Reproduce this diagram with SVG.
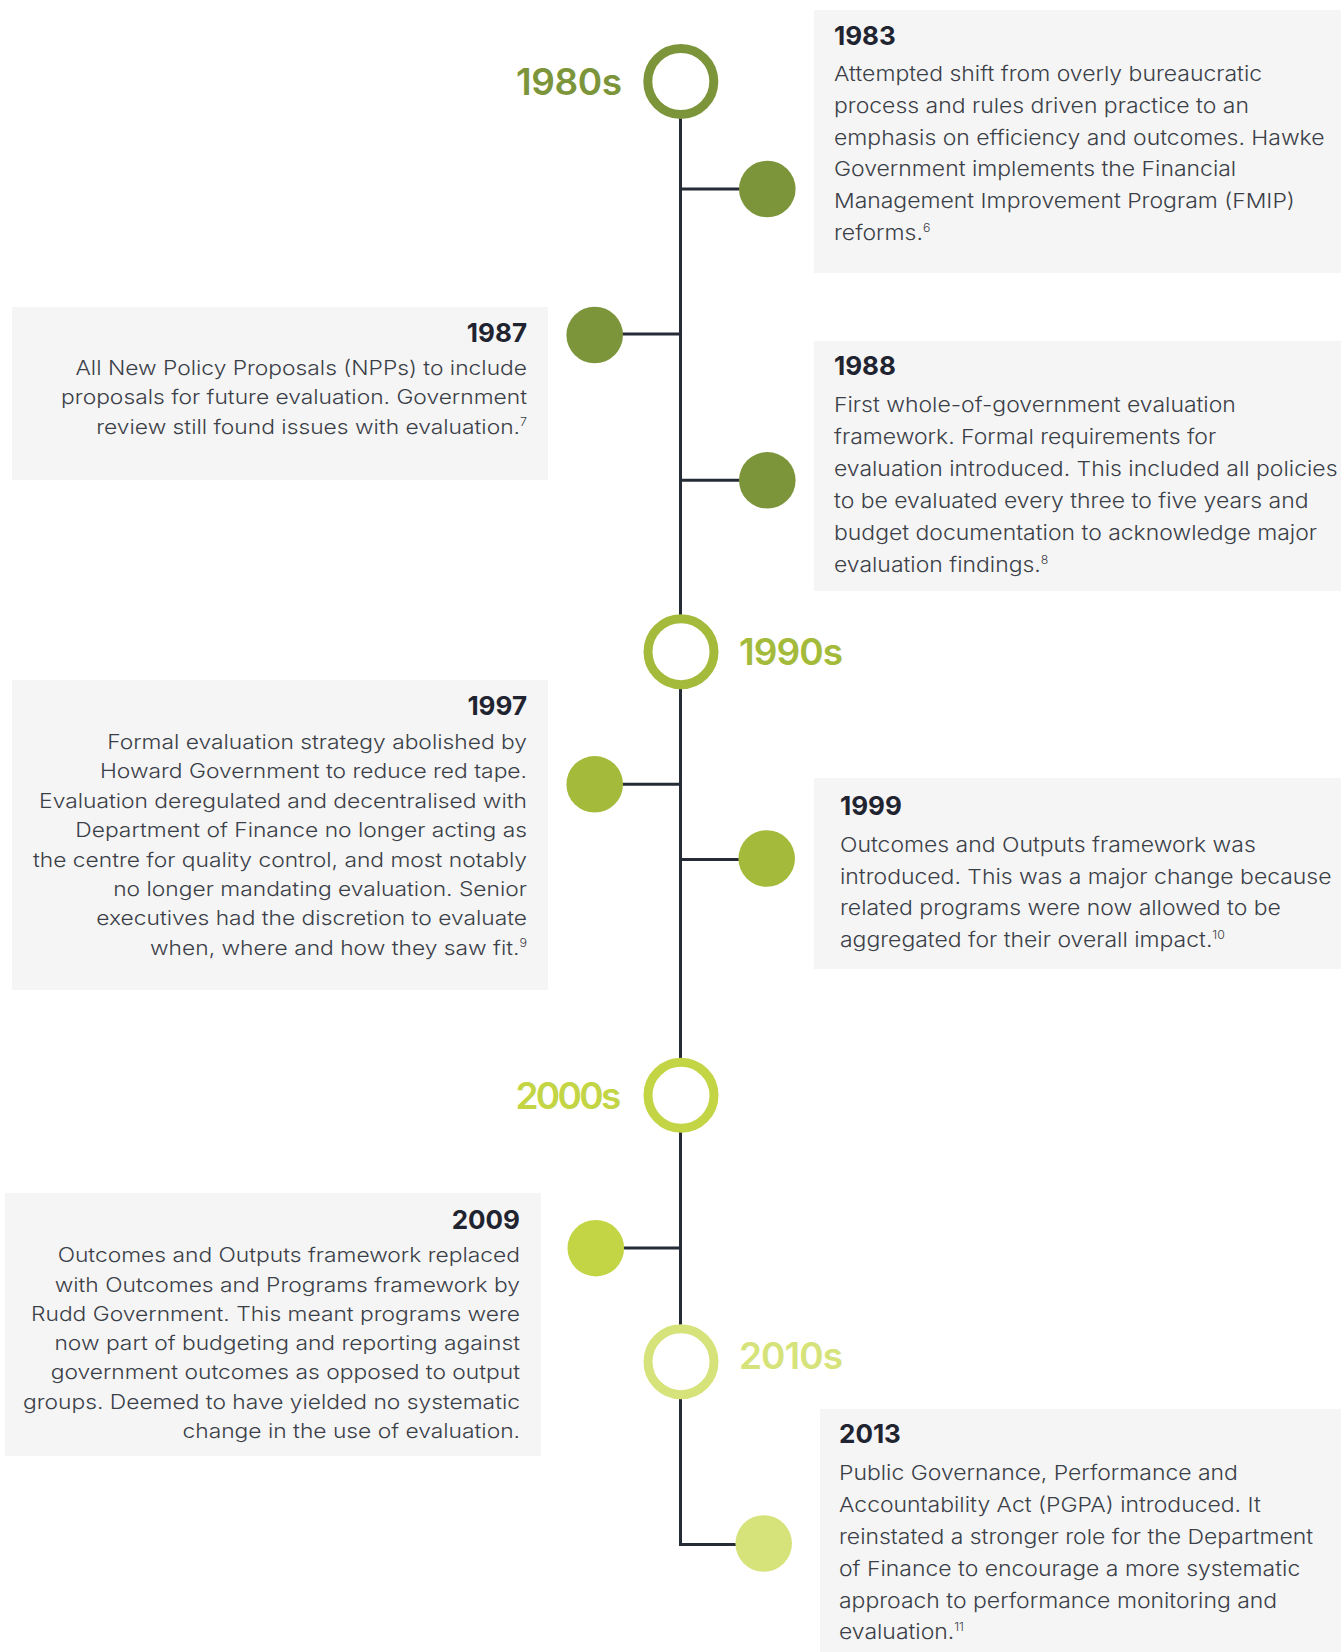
<svg xmlns="http://www.w3.org/2000/svg" width="1341" height="1652" viewBox="0 0 1341 1652">
<style>
.box{fill:#f5f5f5}
.yr{font-family:Inter,"Open Sans","Liberation Sans",sans-serif;font-weight:700;font-size:26px;fill:#1f2430}
.bd{font-family:Inter,"Open Sans","Liberation Sans",sans-serif;font-weight:300;font-size:20.5px;fill:#3b3f48}
.bl{font-family:Inter,"Open Sans","Liberation Sans",sans-serif;font-weight:300;font-size:20px;fill:#3b3f48;text-anchor:end}
.sup{font-size:11px}
.dec{font-family:Inter,"Open Sans","Liberation Sans",sans-serif;font-weight:600;font-size:37px}
.ring{fill:#fff;stroke-width:9}
.ln{stroke:#252b37;stroke-width:3;fill:none}
.c1{fill:#7d953a}.c2{fill:#a4ba3a}.c3{fill:#c3d545}.c4{fill:#d6e37a}
</style>
<g id="connectors">
<line class="ln" x1="680.5" y1="100" x2="680.5" y2="1546"/>
<line class="ln" x1="680.5" y1="189" x2="767" y2="189"/>
<line class="ln" x1="594.7" y1="334" x2="680.5" y2="334"/>
<line class="ln" x1="680.5" y1="480.3" x2="767" y2="480.3"/>
<line class="ln" x1="594.7" y1="784.3" x2="680.5" y2="784.3"/>
<line class="ln" x1="680.5" y1="859.5" x2="766.7" y2="859.5"/>
<line class="ln" x1="595.8" y1="1248" x2="680.5" y2="1248"/>
<line class="ln" x1="680.5" y1="1544.5" x2="763.7" y2="1544.5"/>
</g>
<g id="decade-1980s">
<circle class="ring" cx="680.8" cy="81.5" r="33" stroke="#7d953a"/>
<text class="dec c1" x="622" y="95" text-anchor="end" textLength="106">1980s</text>
</g>
<g id="decade-1990s">
<circle class="ring" cx="681" cy="651.7" r="33" stroke="#a4ba3a"/>
<text class="dec c2" x="739" y="665" textLength="104">1990s</text>
</g>
<g id="decade-2000s">
<circle class="ring" cx="681" cy="1095.3" r="33" stroke="#c3d545"/>
<text class="dec c3" x="621.4" y="1108.5" text-anchor="end" textLength="106">2000s</text>
</g>
<g id="decade-2010s">
<circle class="ring" cx="681" cy="1361.7" r="33" stroke="#d6e37a"/>
<text class="dec c4" x="739" y="1369.3" textLength="104">2010s</text>
</g>
<g id="event-1983">
<circle class="c1" cx="767.3" cy="189" r="28.3"/>
<rect class="box" x="814" y="10" width="527" height="263"/>
<text class="yr" x="834" y="45">1983</text>
<g transform="translate(834 0) scale(1.12 1)">
<text class="bd" x="0" y="81">Attempted shift from overly bureaucratic</text>
<text class="bd" x="0" y="112.8">process and rules driven practice to an</text>
<text class="bd" x="0" y="144.6">emphasis on efficiency and outcomes. Hawke</text>
<text class="bd" x="0" y="176.4">Government implements the Financial</text>
<text class="bd" x="0" y="208.2">Management Improvement Program (FMIP)</text>
<text class="bd" x="0" y="240">reforms.<tspan class="sup" dy="-8">6</tspan></text>
</g>
</g>
<g id="event-1987">
<circle class="c1" cx="594.7" cy="335" r="28.3"/>
<rect class="box" x="12" y="307" width="536" height="173"/>
<text class="yr" x="527" y="341.7" text-anchor="end">1987</text>
<g transform="translate(527 0) scale(1.14 1)">
<text class="bl" x="0" y="375">All New Policy Proposals (NPPs) to include</text>
<text class="bl" x="0" y="404.5">proposals for future evaluation. Government</text>
<text class="bl" x="0" y="434">review still found issues with evaluation.<tspan class="sup" dy="-8">7</tspan></text>
</g>
</g>
<g id="event-1988">
<circle class="c1" cx="767.3" cy="480.3" r="28.3"/>
<rect class="box" x="814" y="341" width="527" height="250"/>
<text class="yr" x="834" y="375">1988</text>
<g transform="translate(834 0) scale(1.12 1)">
<text class="bd" x="0" y="411.7">First whole-of-government evaluation</text>
<text class="bd" x="0" y="443.7">framework. Formal requirements for</text>
<text class="bd" x="0" y="475.7">evaluation introduced. This included all policies</text>
<text class="bd" x="0" y="507.7">to be evaluated every three to five years and</text>
<text class="bd" x="0" y="539.7">budget documentation to acknowledge major</text>
<text class="bd" x="0" y="571.7">evaluation findings.<tspan class="sup" dy="-8">8</tspan></text>
</g>
</g>
<g id="event-1997">
<circle class="c2" cx="594.7" cy="784.3" r="28.3"/>
<rect class="box" x="12" y="680" width="536" height="310"/>
<text class="yr" x="527" y="715" text-anchor="end">1997</text>
<g transform="translate(527 0) scale(1.14 1)">
<text class="bl" x="0" y="749">Formal evaluation strategy abolished by</text>
<text class="bl" x="0" y="778.4">Howard Government to reduce red tape.</text>
<text class="bl" x="0" y="807.8">Evaluation deregulated and decentralised with</text>
<text class="bl" x="0" y="837.2">Department of Finance no longer acting as</text>
<text class="bl" x="0" y="866.6">the centre for quality control, and most notably</text>
<text class="bl" x="0" y="896">no longer mandating evaluation. Senior</text>
<text class="bl" x="0" y="925.4">executives had the discretion to evaluate</text>
<text class="bl" x="0" y="954.8">when, where and how they saw fit.<tspan class="sup" dy="-8">9</tspan></text>
</g>
</g>
<g id="event-1999">
<circle class="c2" cx="766.7" cy="858.5" r="28.3"/>
<rect class="box" x="814" y="778" width="527" height="191"/>
<text class="yr" x="840" y="815">1999</text>
<g transform="translate(840 0) scale(1.12 1)">
<text class="bd" x="0" y="851.7">Outcomes and Outputs framework was</text>
<text class="bd" x="0" y="883.6">introduced. This was a major change because</text>
<text class="bd" x="0" y="915.5">related programs were now allowed to be</text>
<text class="bd" x="0" y="947.4">aggregated for their overall impact.<tspan class="sup" dy="-8">10</tspan></text>
</g>
</g>
<g id="event-2009">
<circle class="c3" cx="595.8" cy="1248.2" r="28.3"/>
<rect class="box" x="5" y="1193" width="536" height="263"/>
<text class="yr" x="520" y="1229" text-anchor="end">2009</text>
<g transform="translate(520 0) scale(1.14 1)">
<text class="bl" x="0" y="1262.3">Outcomes and Outputs framework replaced</text>
<text class="bl" x="0" y="1291.6">with Outcomes and Programs framework by</text>
<text class="bl" x="0" y="1320.9">Rudd Government. This meant programs were</text>
<text class="bl" x="0" y="1350.2">now part of budgeting and reporting against</text>
<text class="bl" x="0" y="1379.5">government outcomes as opposed to output</text>
<text class="bl" x="0" y="1408.8">groups. Deemed to have yielded no systematic</text>
<text class="bl" x="0" y="1438.1">change in the use of evaluation.</text>
</g>
</g>
<g id="event-2013">
<circle class="c4" cx="763.7" cy="1543.5" r="28.3"/>
<rect class="box" x="820" y="1409" width="521" height="243"/>
<text class="yr" x="839" y="1443.3">2013</text>
<g transform="translate(839 0) scale(1.12 1)">
<text class="bd" x="0" y="1480">Public Governance, Performance and</text>
<text class="bd" x="0" y="1511.9">Accountability Act (PGPA) introduced. It</text>
<text class="bd" x="0" y="1543.8">reinstated a stronger role for the Department</text>
<text class="bd" x="0" y="1575.7">of Finance to encourage a more systematic</text>
<text class="bd" x="0" y="1607.6">approach to performance monitoring and</text>
<text class="bd" x="0" y="1639.5">evaluation.<tspan class="sup" dy="-8">11</tspan></text>
</g>
</g>
</svg>
